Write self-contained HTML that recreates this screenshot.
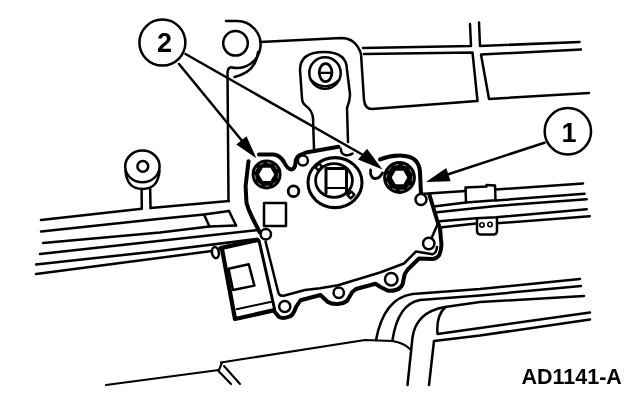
<!DOCTYPE html>
<html><head><meta charset="utf-8"><title>AD1141-A</title>
<style>
html,body{margin:0;padding:0;background:#fff;}
body{width:640px;height:400px;overflow:hidden;}
svg{display:block;filter:grayscale(1);}
text{font-family:"Liberation Sans",sans-serif;font-weight:bold;fill:#000;}
.l{fill:none;stroke:#000;stroke-width:2.5;stroke-linecap:round;stroke-linejoin:round;}
.t{fill:none;stroke:#000;stroke-width:4;stroke-linecap:round;stroke-linejoin:round;}
.w{fill:#fff;stroke:#000;stroke-width:2.5;}
.k{fill:#000;stroke:none;}
</style></head><body>
<svg width="640" height="400" viewBox="0 0 640 400">
<rect width="640" height="400" fill="#fff"/>

<!-- upper panels -->
<g class="l">
<path d="M260,42 L341,38 Q356,38 361,54 L364,100 Q365,109 372,109 L477,101"/>
<path d="M363,48 L471,46 L470,24"/>
<path d="M364,54 L472.5,52.5 L477.5,101"/>
<path d="M479,22.5 L480,46 L579.5,42"/>
<path d="M581,49.5 L481,54.5 L489,99 L589,93"/>
</g>

<!-- top-left boss -->
<g class="l">
<circle cx="235.5" cy="43.3" r="12.3"/>
<path d="M226,21 L237,21 A23.5,23.5 0 1 1 231,67.2 Q227.5,68 227.5,73 L228.5,201"/>
<path d="M258,52 Q256,72 234.5,77"/>
</g>

<!-- bracket arm + top bolt -->
<g class="l">
<path d="M314,149 L313,118 Q312,110 306,106 Q302,103 302,98 L300,70 Q300,52 324,52 Q347,52 347,70 L350,94 Q350,100 347,108 L348,142"/>
<circle cx="325" cy="73" r="15.7"/>
<path d="M311.3,80 Q325,92.5 338.7,80" stroke-width="2"/>
<ellipse cx="325.6" cy="72.6" rx="6.3" ry="9" stroke-width="2.8"/>
<path d="M320,72.8 L331,72.8" stroke-width="2.2"/>
</g>

<!-- left knob -->
<g class="l">
<ellipse cx="142.4" cy="166.4" rx="17.2" ry="15.8"/>
<circle cx="142.8" cy="166.4" r="5.4"/>
<path d="M125.5,171 Q127,189 142.5,189 Q158,189 159.5,171"/>
<path d="M141.6,189 L141.8,208.5 M150.2,189 L150.5,208"/>
</g>

<!-- left rails -->
<g class="l">
<path d="M41,220 L141.8,208.7 M150.5,208 L229,201"/>
<path d="M41,231.6 L158,219 L204,214.5 L229,211"/>
<path d="M43,243 L160,232.5 L209.5,226.5 L236,225.5"/>
<path d="M40,254 L259,230"/>
<path d="M36,264.4 L160,251 L257,239"/>
<path d="M36,274 L212,251"/>
<path d="M204,214.5 L209.5,226.5 M229,211 L236,225.5"/>
<ellipse cx="215.4" cy="252.6" rx="3.4" ry="5.6" transform="rotate(-10 215.4 252.6)"/>
</g>

<!-- right rails -->
<g class="l">
<path d="M420.5,194 L465.5,191 M495.5,189.5 L583,183.5"/>
<path d="M465.5,187.5 L486.5,186.5 L486.5,185 L495,185.5 L495.5,200.25 L466,202.5 Z"/>
<path d="M435.5,206.25 L466,202.5 M495.5,200.5 L584.5,193.7"/>
<path d="M437,212.25 L496,206 L586.75,199.25"/>
<path d="M439.25,221.25 L476,218.25 L496,217.25 L586.75,209.3"/>
<path d="M442.25,227.25 L476,223.5 M497,223.25 L589.75,216.2"/>
<path d="M477,218.25 L477,231 Q477,234.5 481,234.5 L493,234.5 Q497,234.5 497,231 L497,217.25"/>
<circle cx="482" cy="225" r="2.2" stroke-width="1.6"/><circle cx="490" cy="224.5" r="2.2" stroke-width="1.6"/>
</g>

<!-- housing -->
<g class="t">
<path d="M248.5,161.25 L245.6,186 L246.5,203 Q248,209 252,217 L259.5,232"/>
<path d="M259,154.4 L273.5,154.4 Q280,155 284,162 Q287.5,169.5 291.5,169.4 Q295,169 295.5,163 Q295.5,157.5 300,155 L306,152.5 L338.5,146.8"/>
<path d="M380,159.4 Q390,155.5 400,155.6 Q411,156 415.5,160.5 Q419.5,164.5 420,172 L421,194"/>
<path d="M429.5,195 L435.5,215 L438,223 L440,228 L441,240 Q442.5,248 439,255.5 Q436,259 432.5,259 L419,258.5 L407.75,269.5 L404.75,274 L402.5,284.5 Q400,289 396.5,289.75 Q391,291.5 387.5,290.5 L380,286.75 L375.5,283.75 L356,289 L352.25,292 L347,301 Q342,304.5 336.5,304 Q331,304 327.5,301.75 L320.5,295 L300.5,300.25 L296,307 Q293,316 289.25,316.5 Q283,319 279,317 L273.5,310.4"/>
<path d="M259,240.6 L274.6,309.25" stroke-width="3"/>
<path d="M220.5,248.2 L257.5,240" stroke-width="4.4"/>
<path d="M222,249 L235,319 L273.5,310.4" stroke-width="4.2"/>
</g>
<g class="l">
<path d="M265.6,241.75 L278,291.25 Q279,296.5 283.5,295.75 L305,290 L320,288.25 L338,285.25 L380,272.5 L404,263.5 L416,251.5 L432.5,254.3 Q436.5,253 437,247"/>
<path d="M437.75,224 L431.75,237.5"/>
<path d="M236.6,309.2 L271.5,301.8" stroke-width="2"/>
<path d="M228.5,268.75 L248.75,264.25 L254.4,285.6 L233,290 Z"/>
<circle cx="265.8" cy="234.3" r="5.2" class="w"/>
<circle cx="284.75" cy="306.5" r="5.6"/>
<circle cx="338.75" cy="292.75" r="5.2"/>
<circle cx="391.25" cy="279.25" r="6.3"/>
<circle cx="428.75" cy="243.5" r="5.7"/>
<circle cx="421" cy="199.5" r="5.5" class="w"/>
<rect x="264" y="203" width="22" height="23"/>
<circle cx="293.5" cy="191.25" r="5.3" stroke-width="2.8"/>
<circle cx="302.9" cy="160.6" r="5" class="w"/>
<path d="M340.8,148.75 Q341,154.5 346,155.2 Q350,155.6 352.5,153.6"/>
<path d="M370.6,170 Q370,177 374,178.3 Q379,179.5 382.5,173" stroke-width="2.8"/>
</g>

<!-- central circle -->
<g class="l">
<ellipse cx="335" cy="182.6" rx="27" ry="25" stroke-width="3.1"/>
<ellipse cx="334" cy="180.5" rx="18.4" ry="16.8" stroke-width="2.8"/>
<path d="M326,193 L326,168.6 L346.5,168.6 L346.5,193" stroke-width="3"/>
<path d="M327,188 L345,188" stroke-width="2"/>
<rect x="-2.6" y="-2.2" width="5.2" height="4.4" transform="translate(318.75,167) rotate(-45)" class="w" stroke-width="1.6"/>
<rect x="-2.6" y="-2.2" width="5.2" height="4.4" transform="translate(351,195) rotate(-45)" class="w" stroke-width="1.6"/>
</g>

<!-- bolts -->
<g>
<circle cx="266.6" cy="174.4" r="15" fill="#000"/>
<circle cx="266.6" cy="174.4" r="11.8" fill="none" stroke="#fff" stroke-width="0.6" stroke-dasharray="4 4"/>
<path d="M274.20,174.40 L270.40,180.98 L262.80,180.98 L259.00,174.40 L262.80,167.82 L270.40,167.82 Z" fill="#fff"/>
<circle cx="399.5" cy="177.5" r="16.4" fill="#000"/>
<circle cx="399.5" cy="177.5" r="13" fill="none" stroke="#fff" stroke-width="0.6" stroke-dasharray="4 4"/>
<path d="M407.30,177.50 L403.40,184.25 L395.60,184.25 L391.70,177.50 L395.60,170.75 L403.40,170.75 Z" fill="#fff"/>
</g>

<!-- lower-right frame -->
<g class="l">
<path d="M376,340 Q384,298 412.5,294 L480,289 L580,279"/>
<path d="M392.5,340 Q398,304 420,300 L480,295.5 L581,286"/>
<path d="M407.5,385 L412.5,337.5 Q416,312 445,307 L480,302 L584,296"/>
<path d="M445,307.5 Q436,316 437.5,334 L480,328 L590,312.5"/>
<path d="M429,385 L434,341 L480,335.5 L590,319.5"/>
<path d="M221,362.5 L365,340 L392.5,341 Q404,343 410,349" stroke-width="2.1"/>
<path d="M106,385 L219,370 L222,362.5" stroke-width="2.1"/>
<path d="M217.5,370 L231,384 M224,366 L240,384" stroke-width="2.1"/>
</g>

<!-- callouts -->
<g class="l">
<path d="M179,64 L243,142"/>
<path d="M185.5,54 L364,155.5"/>
<path d="M544.5,142.7 L446,175"/>
</g>
<path class="k" d="M256.25,158.1 L236.25,144.4 L246.5,136.25 Z"/>
<path class="k" d="M382.5,169.4 L358,159.4 L367,148.75 Z"/>
<path class="k" d="M426,181.9 L446.25,168.1 L450.6,181.25 Z"/>
<circle cx="162.4" cy="42.6" r="23" class="w"/>
<circle cx="567.85" cy="131.3" r="23.2" class="w"/>
<text x="164.5" y="52" font-size="27" text-anchor="middle">2</text>
<text x="569" y="141.8" font-size="27" text-anchor="middle">1</text>
<text x="521.5" y="384" font-size="21.5">AD1141-A</text>
</svg>
</body></html>
